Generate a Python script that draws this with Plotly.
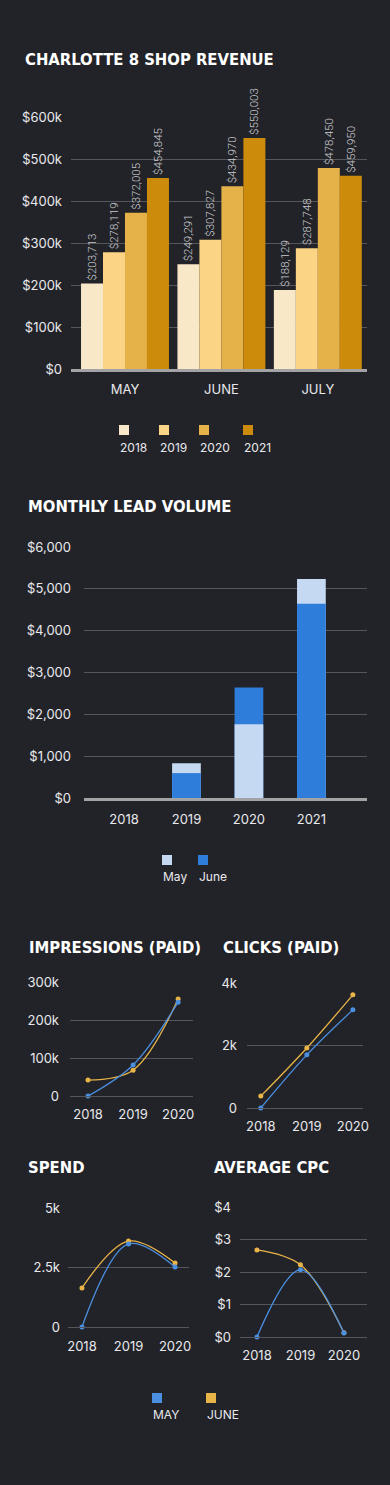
import plotly.graph_objects as go

W, H = 390, 1485
PAGE_MARGIN = 8  # browser default body margin; the figure fills the rest
FW, FH = W - 2 * PAGE_MARGIN, H - 2 * PAGE_MARGIN
BG = "#222329"
GRID = "#55565c"
TXT = "#e9e9ec"
FONT = "Inter"
TFONT = "DejaVu Sans Condensed"

# ---------------- data ----------------
rev_months = ["MAY", "JUNE", "JULY"]
rev_years = ["2018", "2019", "2020", "2021"]
rev_2018 = [203713, 249291, 188129]
rev_2019 = [278119, 307827, 287748]
rev_2020 = [372005, 434970, 478450]
rev_2021 = [454845, 550003, 459950]
rev_colors = ["#f9e8c7", "#fbd585", "#e5b24a", "#cd8b0c"]
rev_tickvals = [0, 100000, 200000, 300000, 400000, 500000, 600000]
rev_ticktext = ["$0", "$100k", "$200k", "$300k", "$400k", "$500k", "$600k"]

lead_years = ["2018", "2019", "2020", "2021"]
lead_may = [0, 833, 1762, 5238]
lead_june = [0, 595, 2643, 4643]
lead_colors = {"May": "#c5d9f2", "June": "#2e7ddb"}
lead_tickvals = [0, 1000, 2000, 3000, 4000, 5000, 6000]
lead_ticktext = ["$0", "$1,000", "$2,000", "$3,000", "$4,000", "$5,000", "$6,000"]

years3 = ["2018", "2019", "2020"]
imp_may = [0, 81600, 247000]
imp_june = [42000, 68000, 255000]
imp_tickvals = [0, 100000, 200000, 300000]
imp_ticktext = ["0", "100k", "200k", "300k"]

clk_may = [0, 1700, 3140]
clk_june = [380, 1920, 3620]
clk_tickvals = [0, 2000, 4000]
clk_ticktext = ["0", "2k", "4k"]

spd_may = [0, 3490, 2520]
spd_june = [1640, 3610, 2690]
spd_tickvals = [0, 2500, 5000]
spd_ticktext = ["0", "2.5k", "5k"]

cpc_may = [0, 2.07, 0.12]
cpc_june = [2.68, 2.22, 0.13]
cpc_tickvals = [0, 1, 2, 3, 4]
cpc_ticktext = ["$0", "$1", "$2", "$3", "$4"]

line_colors = {"MAY": "#4a8fe0", "JUNE": "#e8b447"}


def px_x(x):
    return (x - PAGE_MARGIN) / FW


def px_y(y):
    return 1 - (y - PAGE_MARGIN) / FH


fig = go.Figure()

# ---------- chart 1: revenue ----------
for name, vals, col in zip(rev_years, [rev_2018, rev_2019, rev_2020, rev_2021], rev_colors):
    fig.add_trace(go.Bar(
        x=rev_months, y=vals, name=name, marker=dict(color=col, line=dict(width=0)),
        texttemplate="%{y:$,.0f}", textposition="outside", textangle=-90,
        constraintext="none",
        textfont=dict(family="Roboto", size=11.5, color="#c9c9cc", weight=300),
        cliponaxis=False, xaxis="x", yaxis="y", showlegend=False,
    ))

# ---------- chart 2: lead volume (overlaid, smaller in front) ----------
back_vals = [max(a, b) for a, b in zip(lead_may, lead_june)]
front_vals = [min(a, b) for a, b in zip(lead_may, lead_june)]
back_cols = [lead_colors["May"] if a >= b else lead_colors["June"] for a, b in zip(lead_may, lead_june)]
front_cols = [lead_colors["June"] if a >= b else lead_colors["May"] for a, b in zip(lead_may, lead_june)]
fig.add_trace(go.Bar(x=lead_years, y=back_vals, marker=dict(color=back_cols, line=dict(width=0)),
                     width=0.46, offset=-0.23, xaxis="x2", yaxis="y2", showlegend=False))
fig.add_trace(go.Bar(x=lead_years, y=front_vals, marker=dict(color=front_cols, line=dict(width=0)),
                     width=0.46, offset=-0.23, xaxis="x2", yaxis="y2", showlegend=False))

# ---------- small line charts ----------
small = [
    ("x3", "y3", imp_may, imp_june),
    ("x4", "y4", clk_may, clk_june),
    ("x5", "y5", spd_may, spd_june),
    ("x6", "y6", cpc_may, cpc_june),
]
for xa, ya, may, june in small:
    for name, vals in (("JUNE", june), ("MAY", may)):
        fig.add_trace(go.Scatter(
            x=years3, y=vals, mode="lines+markers",
            line=dict(color=line_colors[name], width=1.3, shape="spline", smoothing=1.0),
            marker=dict(color=line_colors[name], size=5),
            xaxis=xa, yaxis=ya, showlegend=False, cliponaxis=False,
        ))


def yax(top, bottom, rng, tv, tt, standoff, anchor="x"):
    return dict(
        domain=[px_y(bottom), px_y(top)], range=rng, tickvals=tv, ticktext=tt,
        showgrid=True, gridcolor=GRID, gridwidth=1, zeroline=False,
        showline=False, ticks="", ticklabelstandoff=standoff, automargin=False,
        tickfont=dict(family=FONT, size=13, color=TXT), anchor=anchor, fixedrange=True,
    )


def xax(left, right, rng, anchor, line=False, standoff=8, size=13):
    d = dict(
        domain=[px_x(left), px_x(right)], range=rng, type="category",
        showgrid=False, zeroline=False, ticks="", anchor=anchor, automargin=False,
        tickfont=dict(family=FONT, size=size, color=TXT), ticklabelstandoff=standoff,
        fixedrange=True,
    )
    if line:
        d.update(showline=True, linecolor="#a3a3a6", linewidth=2.5)
    else:
        d.update(showline=True, linecolor=GRID, linewidth=1)
    return d


fig.update_layout(
    width=FW, height=FH, paper_bgcolor=BG, plot_bgcolor=BG, autosize=False,
    margin=dict(l=0, r=0, t=0, b=0, pad=0, autoexpand=False), showlegend=False,
    barmode="group", bargap=0.088, bargroupgap=0,
    xaxis=xax(71, 367, [-0.56, 2.51], "y", line=True, standoff=7),
    yaxis=yax(117, 369, [0, 600000], rev_tickvals, rev_ticktext, 8, anchor="x"),
    xaxis2=xax(84, 367, [-0.64, 3.89], "y2", line=True, standoff=8),
    yaxis2=yax(547, 798, [0, 6000], lead_tickvals, lead_ticktext, 12, anchor="x2"),
    xaxis3=xax(70, 193, [-0.4, 2.33], "y3", standoff=6),
    yaxis3=yax(982, 1096, [0, 300000], imp_tickvals, imp_ticktext, 10, anchor="x3"),
    xaxis4=xax(247, 363, [-0.30, 2.22], "y4", standoff=6),
    yaxis4=yax(983, 1108, [0, 4000], clk_tickvals, clk_ticktext, 9, anchor="x4"),
    xaxis5=xax(68, 189, [-0.30, 2.30], "y5", standoff=7),
    yaxis5=yax(1208, 1327, [0, 5000], spd_tickvals, spd_ticktext, 7, anchor="x5"),
    xaxis6=xax(240, 367, [-0.39, 2.53], "y6", standoff=6),
    yaxis6=yax(1207, 1337, [0, 4], cpc_tickvals, cpc_ticktext, 8, anchor="x6"),
)

annotations = []
shapes = []


def title(text, x, y):
    annotations.append(dict(
        text=text, x=px_x(x), y=px_y(y), xref="paper", yref="paper",
        xanchor="left", yanchor="middle", showarrow=False,
        font=dict(family=TFONT, size=16.5, color="#ffffff", weight=700),
    ))


title("CHARLOTTE 8 SHOP REVENUE", 23, 59)
title("MONTHLY LEAD VOLUME", 26, 507)
title("IMPRESSIONS (PAID)", 27, 947)
title("CLICKS (PAID)", 221, 947)
title("SPEND", 26, 1167)
title("AVERAGE CPC", 212, 1167)


def legend_item(label, color, left, sq_top, text_y):
    shapes.append(dict(type="rect", xref="paper", yref="paper",
                       x0=px_x(left), x1=px_x(left + 10), y0=px_y(sq_top + 10), y1=px_y(sq_top),
                       fillcolor=color, line=dict(width=0)))
    annotations.append(dict(
        text=label, x=px_x(left - 1), y=px_y(text_y), xref="paper", yref="paper",
        xanchor="left", yanchor="middle", showarrow=False,
        font=dict(family=FONT, size=12, color=TXT),
    ))


for name, col, left in zip(rev_years, rev_colors, [119, 159, 199, 243]):
    legend_item(name, col, left, 425, 447)
for name, left in zip(["May", "June"], [162, 198]):
    legend_item(name, lead_colors[name], left, 855, 877)
for name, left in zip(["MAY", "JUNE"], [152, 206]):
    legend_item(name, line_colors[name], left, 1393, 1414)

fig.update_layout(annotations=annotations, shapes=shapes)

fig.write_html("out.html", config={"displayModeBar": False},
               post_script="document.body.style.background='%s';"
                           "document.documentElement.style.background='%s';" % (BG, BG))
